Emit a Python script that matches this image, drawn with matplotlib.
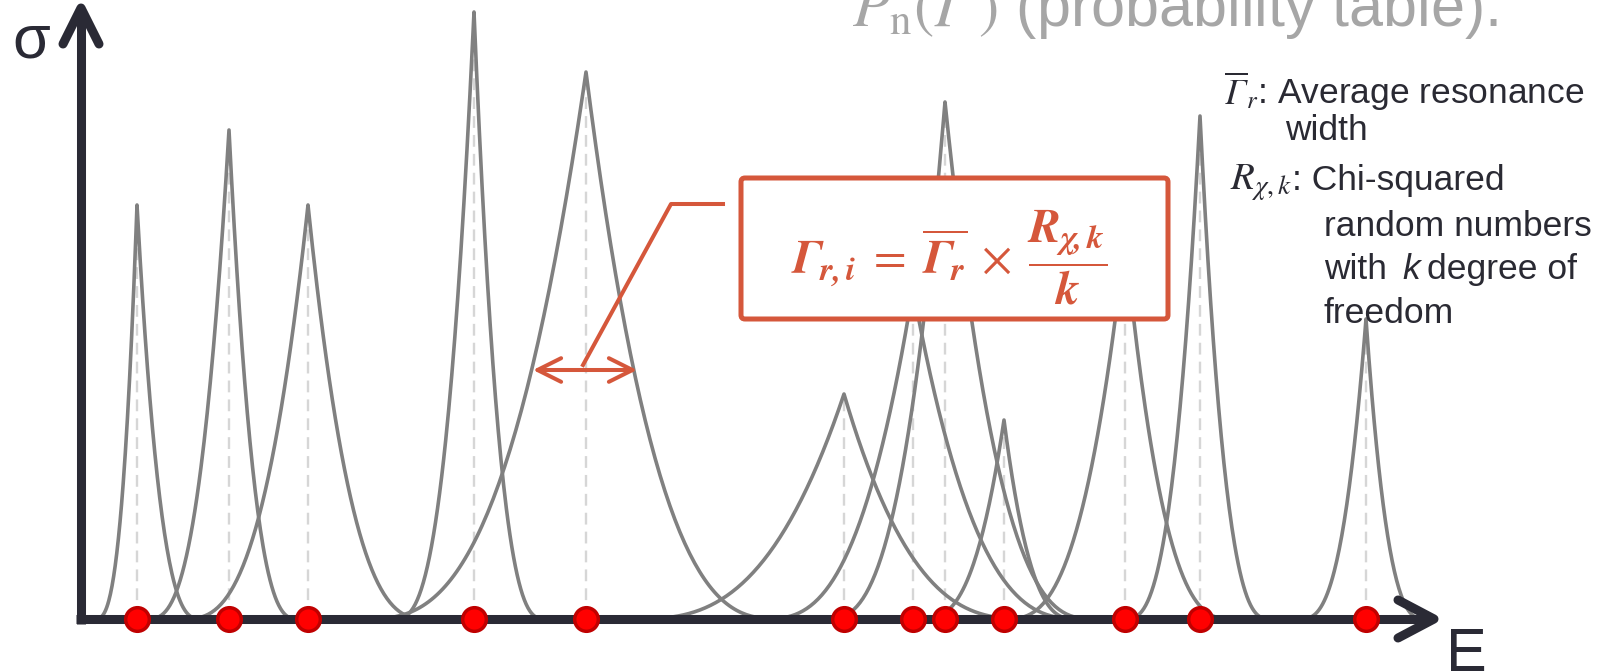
import numpy as np
import matplotlib.pyplot as plt
from matplotlib.patches import FancyBboxPatch

plt.rcParams['font.family'] = ['Liberation Sans', 'DejaVu Sans']
plt.rcParams['mathtext.fontset'] = 'custom'
plt.rcParams['mathtext.rm'] = 'STIXGeneral'
plt.rcParams['mathtext.it'] = 'STIXGeneral:italic'
plt.rcParams['mathtext.sf'] = 'STIXGeneral:italic'   # used for italic capital Greek
plt.rcParams['mathtext.bf'] = 'STIXGeneral:bold'
plt.rcParams['mathtext.bfit'] = 'STIXGeneral:italic:bold'

# --------------------------------------------------------------
# Data: resonances (energy, peak height, left / right extent)
# units are pixels measured from the axes origin
# --------------------------------------------------------------
res_energy = [56, 148, 227, 393, 505, 763, 832, 864, 923, 1044, 1119, 1285]
res_peak = [414, 489, 414, 607, 547, 225, 330, 517, 199, 380, 503, 300]
width_left = [42, 82, 125, 80, 222, 211, 150, 120, 83, 120, 75, 66]
width_right = [64, 69, 120, 71, 195, 185, 170, 150, 72, 107, 70, 59]
shape_exp = 2.8

axis_col = '#2a2a35'
peak_col = '#808080'
red_col = '#d5573b'
txt_col = '#2a2a33'

# --------------------------------------------------------------
# Figure
# --------------------------------------------------------------
fig = plt.figure(figsize=(16.24, 6.72), dpi=100)
ax = fig.add_axes([0, 0, 1, 1])
ax.set_xlim(-81, 1543)
ax.set_ylim(-53, 619)
ax.axis('off')

# dashed guides
ax.vlines(res_energy, 0, res_peak, colors='#d6d6d6', linestyles=(0, (5, 3)),
          lw=1.7, zorder=1)

# resonance curves
for e0, h, wl, wr in zip(res_energy, res_peak, width_left, width_right):
    el = np.linspace(e0 - wl, e0, 80)
    er = np.linspace(e0, e0 + wr, 80)
    yl = h * (1 - (e0 - el) / wl) ** shape_exp
    yr = h * (1 - (er - e0) / wr) ** shape_exp
    ax.plot(np.r_[el, er], np.r_[yl, yr], color=peak_col, lw=2.6, zorder=2)

# axes with arrows
e_tip, s_tip = 1353, 611
ax.plot([-4.5, e_tip - 4], [0, 0], color=axis_col, lw=6.5, solid_capstyle='butt', zorder=3)
ax.plot([0, 0], [-4.5, s_tip - 4], color=axis_col, lw=6.5, solid_capstyle='butt', zorder=3)
ax.plot([e_tip - 36, e_tip, e_tip - 36], [19, 0, -19], color=axis_col, lw=6.5,
        solid_capstyle='round', solid_joinstyle='round', zorder=3)
ax.plot([-18, 0, 18], [s_tip - 36, s_tip, s_tip - 36], color=axis_col, lw=6.5,
        solid_capstyle='round', solid_joinstyle='round', zorder=3)

ax.text(-50, 577, 'σ', fontsize=44, color=axis_col, ha='center', va='center')
ax.text(1365, -52, 'E', fontsize=44, color=axis_col, ha='left', va='baseline')

# resonance energies
ax.plot(res_energy, [0] * len(res_energy), 'o', ms=17, mfc='#ff0000', mec='#c00000',
        mew=2.5, zorder=4)

# width arrow + leader line
ax.annotate('', xy=(452, 249), xytext=(556, 249),
            arrowprops=dict(arrowstyle='<->,head_length=1.7,head_width=0.85',
                            color=red_col, lw=2.9, shrinkA=0, shrinkB=0), zorder=5)
ax.plot([642, 590, 502], [415, 415, 254], color=red_col, lw=2.9, zorder=5)

# formula box
box = FancyBboxPatch((660, 300), 427, 141, boxstyle='round,pad=0,rounding_size=4',
                     fc='white', ec=red_col, lw=3.6, zorder=6)
ax.add_patch(box)
ax.text(868, 362,
        r'$\mathbfit{\Gamma}_{\mathbfit{r,i}} \;=\; \overline{\mathbfit{\Gamma}_{\mathbfit{r}}}'
        r' \;\times\; \dfrac{\mathbfit{R}_{\mathbfit{\chi,k}}}{\mathbfit{k}}$',
        fontsize=34, color=red_col, ha='center', va='center', zorder=7)

# title (cut at top)
ax.text(771, 593, r'$P_\mathrm{n}(\mathsf{\Gamma}\,)$ (probability table).',
        fontsize=44, color='#a6a6a6', ha='left', va='baseline')

# notes on the right
fs = 25.5
ax.text(1143, 619 - 104, r'$\overline{\mathsf{\Gamma}}_r$: Average resonance', fontsize=fs,
        color=txt_col, va='baseline')
ax.text(1204, 619 - 140, 'width', fontsize=fs, color=txt_col, va='baseline')
ax.text(1149, 619 - 190, r'$R_{\chi,k}$', fontsize=28, color=txt_col, va='baseline')
ax.text(1211, 619 - 190, ': Chi-squared', fontsize=fs, color=txt_col, va='baseline')
ax.text(1243, 619 - 236, 'random numbers', fontsize=fs, color=txt_col, va='baseline')
ax.text(1243, 619 - 279, 'with', fontsize=fs, color=txt_col, va='baseline')
ax.text(1321, 619 - 279, 'k', fontsize=fs, color=txt_col, va='baseline', style='italic')
ax.text(1346, 619 - 279, 'degree of', fontsize=fs, color=txt_col, va='baseline')
ax.text(1243, 619 - 323, 'freedom', fontsize=fs, color=txt_col, va='baseline')

fig.savefig('out.png', dpi=100)
